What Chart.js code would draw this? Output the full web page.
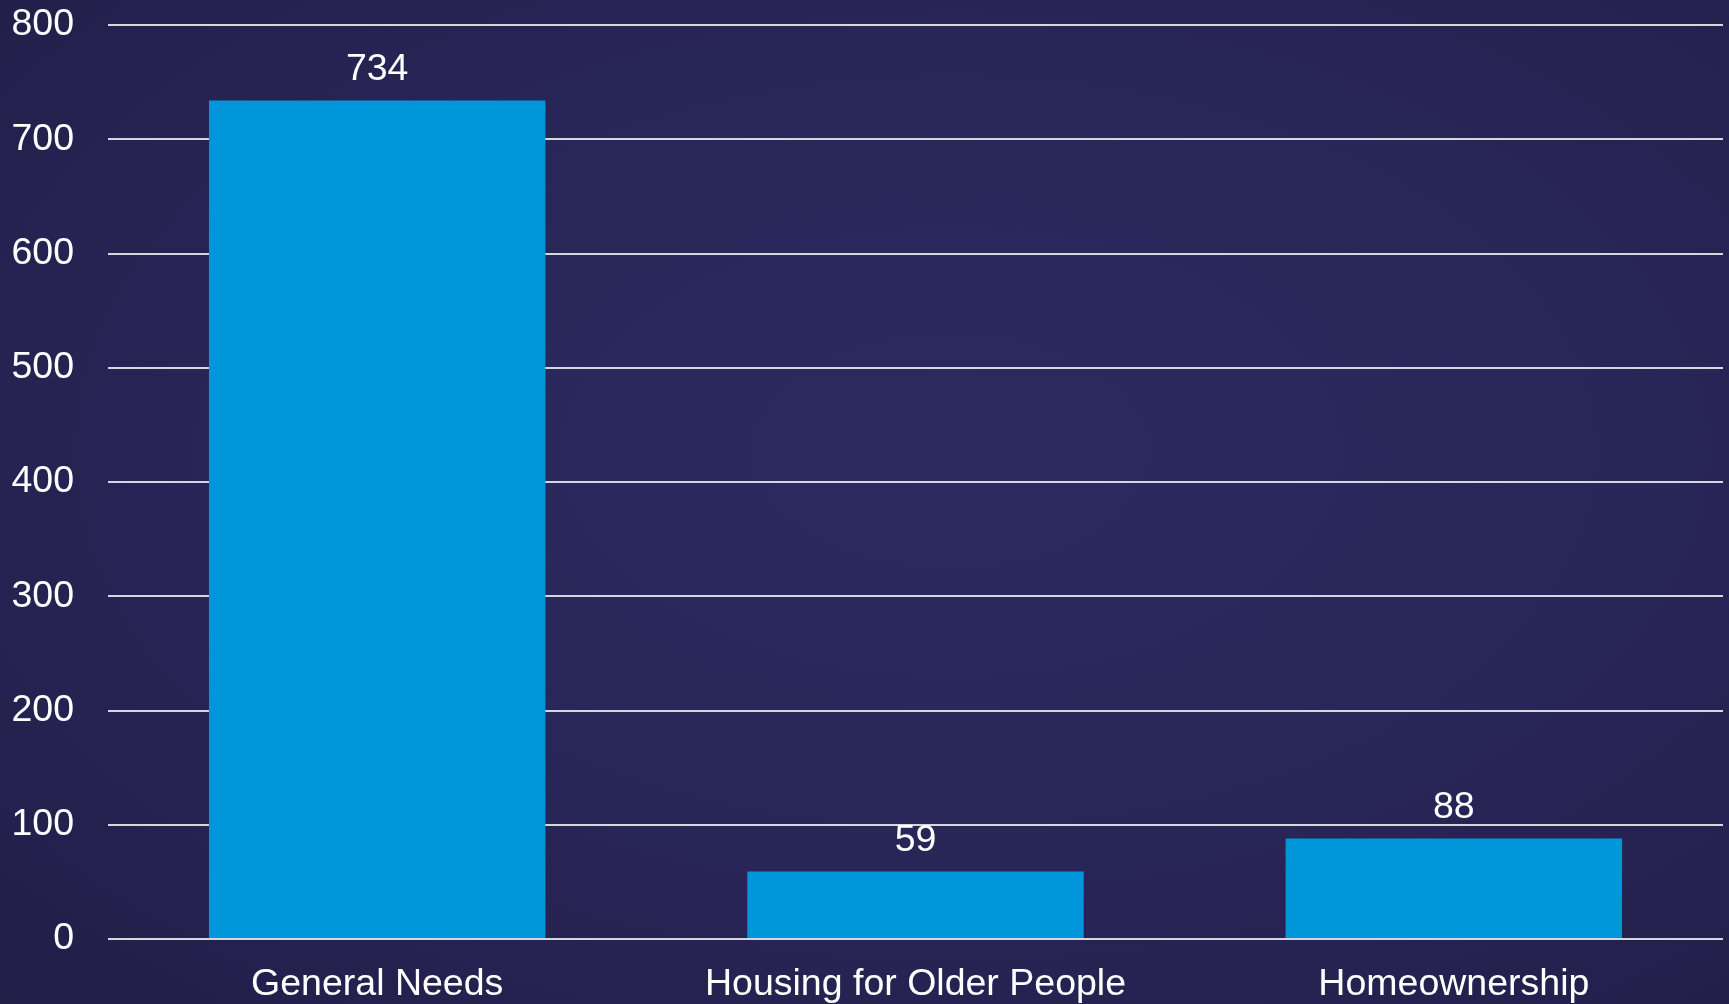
<!DOCTYPE html>
<html>
<head>
<meta charset="utf-8">
<script src="https://cdn.jsdelivr.net/npm/chart.js@4/dist/chart.umd.min.js"></script>
<style>
    html, body {
        margin: 0;
        padding: 0;
        width: 1729px;
        height: 1004px;
        overflow: hidden;
    }
    body {
        background: radial-gradient(ellipse at 55% 45%, #2c2a5e 0%, #29265a 45%, #221e48 100%);
    }
    #wrap {
        position: absolute;
        left: 0;
        top: 0;
        width: 1729px;
        height: 1004px;
    }
</style>
</head>
<body>
<div id="wrap"><canvas id="barChart"></canvas></div>
<script>
// dados do gráfico
const categorias = ['General Needs', 'Housing for Older People', 'Homeownership'];
const valores = [734, 59, 88];
const ticksY = [0, 100, 200, 300, 400, 500, 600, 700, 800];

const fonte = { family: '"Liberation Sans", Arial, sans-serif', size: 37.5 };

// escreve o valor acima de cada barra
const rotulosPlugin = {
    id: 'rotulos',
    afterDatasetsDraw(chart) {
        const ctx = chart.ctx;
        const meta = chart.getDatasetMeta(0);
        ctx.save();
        ctx.fillStyle = '#ffffff';
        ctx.font = fonte.size + 'px ' + fonte.family;
        ctx.textAlign = 'center';
        ctx.textBaseline = 'middle';
        meta.data.forEach((bar, i) => {
            ctx.fillText(String(valores[i]), bar.x, bar.y - 31);
        });
        ctx.restore();
    }
};

const ctx = document.getElementById('barChart').getContext('2d');

const config = {
    type: 'bar',
    data: {
        labels: categorias,
        datasets: [{
            data: valores,
            backgroundColor: '#0096da',
            borderWidth: 0,
            categoryPercentage: 1,
            barPercentage: 0.625
        }]
    },
    options: {
        responsive: true,
        maintainAspectRatio: false,
        animation: false,
        layout: {
            padding: { top: 25, right: 6, bottom: 0, left: 0 }
        },
        plugins: {
            legend: { display: false },
            tooltip: { enabled: false }
        },
        scales: {
            x: {
                grid: { display: false, drawTicks: false },
                border: { display: false },
                ticks: {
                    color: '#ffffff',
                    font: fonte,
                    padding: 23
                },
                afterFit(axis) {
                    axis.height = 65;
                    axis.paddingLeft = 0;
                    axis.paddingRight = 0;
                }
            },
            y: {
                min: 0,
                max: 800,
                afterBuildTicks(axis) {
                    axis.ticks = ticksY.map(v => ({ value: v }));
                },
                grid: {
                    color: '#d6d6de',
                    lineWidth: 2,
                    drawTicks: false
                },
                border: { display: false },
                ticks: {
                    color: '#ffffff',
                    font: fonte,
                    padding: 34
                },
                afterFit(axis) {
                    axis.width = 108;
                    axis.paddingTop = 0;
                    axis.paddingBottom = 0;
                }
            }
        }
    },
    plugins: [rotulosPlugin]
};

const grafico = new Chart(ctx, config);
</script>
</body>
</html>
